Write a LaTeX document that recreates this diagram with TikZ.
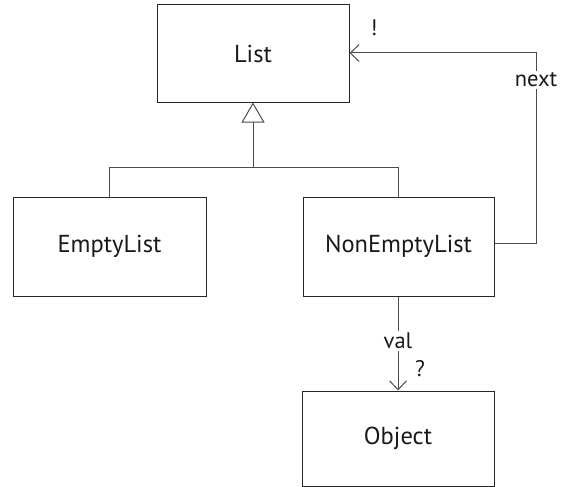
\documentclass[tikz,border=0pt]{standalone}
\usepackage{fontspec}
\setmainfont{PT Sans}
\usetikzlibrary{arrows.meta}
\begin{document}
\begin{tikzpicture}[x=1pt,y=-1pt,
  box/.style={draw=black!85, line width=1pt, rectangle, font=\fontsize{24.5}{28}\selectfont, text=black!90},
  lbl/.style={font=\fontsize{22.5}{26}\selectfont, text=black!90, inner sep=2pt},
  conn/.style={draw=black!70, line width=1pt},
  bar/.style={-{Straight Barb[length=9pt,width=17pt,line width=1pt]}}
]
\useasboundingbox (0,0) rectangle (562,487);
\node[box, minimum width=192pt, minimum height=97pt] (list) at (253,53.5) {List};
\node[box, minimum width=193pt, minimum height=99pt] (empty) at (109.5,246.5) {EmptyList};
\node[box, minimum width=191pt, minimum height=99pt] (nonempty) at (398.5,246.5) {NonEmptyList};
\node[box, minimum width=192pt, minimum height=95pt] (object) at (398,438.5) {Object};

\coordinate (junc) at (253,167);
\coordinate (jl) at (empty.north |- junc);
\coordinate (jr) at (nonempty.north |- junc);
\draw[conn] (empty.north) -- (jl) -- (jr) -- (nonempty.north);
\draw[conn, -{Triangle[open,length=20pt,width=23pt,line width=1pt]}] (junc) -- (list.south);

% next association
\coordinate (nr) at (536,243);
\coordinate (nt) at (536,53);
\node[lbl, fill=white] (next) at (536,80) {next};
\draw[conn] (nonempty.east |- nr) -- (nr) -- (next.south);
\draw[conn, bar] (next.north) -- (nt) -- (list.east |- nt);
\node[lbl] (excl) at (374,28) {!};

% val association
\node[lbl, fill=white] (val) at (398,341) {val};
\draw[conn] (nonempty.south -| val) -- (val.north);
\draw[conn, bar] (val.south) -- (object.north -| val);
\node[lbl] (q) at (420,369) {?};
\end{tikzpicture}
\end{document}
